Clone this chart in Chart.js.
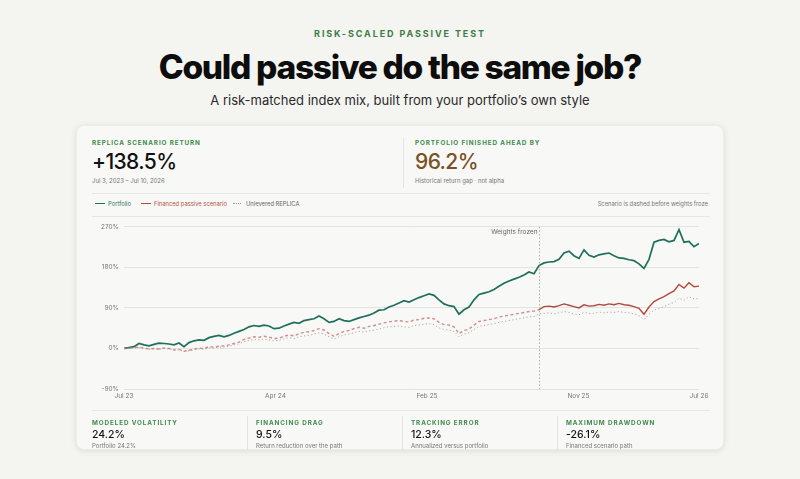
<!DOCTYPE html>
<html>
<head>
<meta charset="utf-8">
<script src="https://cdn.jsdelivr.net/npm/chart.js@4"></script>
<style>
  * { box-sizing: border-box; margin: 0; padding: 0; }
  body { width: 800px; height: 479px; background: #f4f4f1; font-family: Inter, "Noto Sans", sans-serif; color: #111; position: relative; overflow: hidden; }
  .eyebrow { position: absolute; top: 28px; left: 0; width: 800px; text-align: center; font-size: 9px; font-weight: 700; letter-spacing: 1.9px; color: #3b7d45; }
  h1 { position: absolute; top: 47px; left: 0; width: 800px; text-align: center; font-size: 33.5px; font-weight: 800; letter-spacing: -1.3px; color: #0d0d0d; }
  .sub { position: absolute; top: 92px; left: 0; width: 800px; text-align: center; font-size: 13px; color: #2a2a2a; }
  .card { position: absolute; left: 76px; top: 125px; width: 648px; height: 325px; background: #f8f8f6; border-radius: 8px; box-shadow: 0 1px 6px rgba(0,0,0,0.10); border: 1px solid #ecece8; }
  .lab { position: absolute; font-size: 6.3px; font-weight: 700; letter-spacing: 0.9px; color: #3d8a4c; }
  .big { position: absolute; font-size: 21px; font-weight: 500; letter-spacing: -0.6px; }
  .small { position: absolute; font-size: 6px; color: #777; }
  .mid { position: absolute; font-size: 10.5px; font-weight: 500; color: #111; }
  .vdiv { position: absolute; width: 1px; background: #e4e4e0; }
  .hdiv { position: absolute; height: 1px; background: #e7e7e3; }
  .leg { position: absolute; top: 74px; font-size: 5.8px; display: flex; align-items: center; }
  .leg i { display: inline-block; width: 10px; height: 0; margin-right: 3px; }
  #wrap { position: absolute; left: 9px; top: 92px; width: 630px; height: 195px; }
</style>
</head>
<body>
<div class="eyebrow">RISK-SCALED PASSIVE TEST</div>
<h1>Could passive do the same job?</h1>
<div class="sub">A risk-matched index mix, built from your portfolio’s own style</div>

<div class="card">
  <div class="lab" style="left:15px;top:13px">REPLICA SCENARIO RETURN</div>
  <div class="big" style="left:15px;top:23px">+138.5%</div>
  <div class="small" style="left:15px;top:51px">Jul 3, 2023 – Jul 10, 2026</div>
  <div class="vdiv" style="left:326px;top:12px;height:50px"></div>
  <div class="lab" style="left:338px;top:13px">PORTFOLIO FINISHED AHEAD BY</div>
  <div class="big" style="left:338px;top:23px;color:#7a5125">96.2%</div>
  <div class="small" style="left:338px;top:51px">Historical return gap · not alpha</div>

  <div class="hdiv" style="left:15px;top:67px;width:618px"></div>
  <div class="leg" style="left:18px;color:#2b7a62"><i style="border-top:1.5px solid #1f6f5c"></i>Portfolio</div>
  <div class="leg" style="left:64px;color:#b4544a"><i style="border-top:1.5px solid #b24d42"></i>Financed passive scenario</div>
  <div class="leg" style="left:156px;color:#666"><i style="border-top:1.5px dotted #999;width:8px;margin-right:5px"></i>Unlevered REPLICA</div>
  <div class="leg" style="right:15px;color:#777">Scenario is dashed before weights froze</div>
  <div class="hdiv" style="left:15px;top:90px;width:618px"></div>

  <div id="wrap"><canvas id="chart"></canvas></div>

  <div class="hdiv" style="left:15px;top:284px;width:618px"></div>
  <div class="lab" style="left:15px;top:293px">MODELED VOLATILITY</div>
  <div class="mid" style="left:15px;top:302px">24.2%</div>
  <div class="small" style="left:15px;top:316px">Portfolio 24.2%</div>
  <div class="vdiv" style="left:170px;top:290px;height:34px"></div>
  <div class="lab" style="left:179px;top:293px">FINANCING DRAG</div>
  <div class="mid" style="left:179px;top:302px">9.5%</div>
  <div class="small" style="left:179px;top:316px">Return reduction over the path</div>
  <div class="vdiv" style="left:325px;top:290px;height:34px"></div>
  <div class="lab" style="left:334px;top:293px">TRACKING ERROR</div>
  <div class="mid" style="left:334px;top:302px">12.3%</div>
  <div class="small" style="left:334px;top:316px">Annualized versus portfolio</div>
  <div class="vdiv" style="left:480px;top:290px;height:34px"></div>
  <div class="lab" style="left:489px;top:293px">MAXIMUM DRAWDOWN</div>
  <div class="mid" style="left:489px;top:302px">-26.1%</div>
  <div class="small" style="left:489px;top:316px">Financed scenario path</div>
</div>

<script>
// cumulative return (%), Jul 3 2023 -> Jul 10 2026, evenly sampled
const portfolio = [0, 2, 4, 11, 8, 6, 9, 12, 11, 10, 8, 12, 4, 13, 17, 19, 18, 24, 27, 29,
  26, 29, 34, 38, 42, 48, 51, 49, 52, 50, 44, 45, 50, 54, 58, 56, 62, 64, 66, 72,
  66, 58, 60, 66, 62, 60, 64, 68, 71, 74, 79, 85, 86, 92, 96, 101, 106, 103, 108, 113,
  117, 121, 118, 108, 99, 95, 93, 76, 86, 92, 108, 120, 123, 126, 131, 138, 145, 150, 154, 158,
  163, 170, 166, 184, 190, 192, 193, 198, 212, 216, 206, 200, 219, 207, 203, 208, 210, 212, 206, 201,
  200, 197, 195, 188, 178, 198, 236, 240, 242, 237, 240, 264, 236, 238, 226, 233];

const financed = [0, 1, 2, 3, 1, -1, 0, -1, 1, 0, -3, -2, -6, -4, -2, 1, 0, 4, 3, 5,
  6, 8, 11, 14, 20, 23, 26, 25, 27, 25, 22, 23, 27, 30, 28, 33, 36, 37, 40, 44,
  41, 33, 27, 33, 38, 40, 44, 47, 45, 49, 51, 54, 57, 59, 61, 62, 60, 59, 63, 64,
  67, 68, 66, 58, 53, 52, 48, 33, 40, 43, 52, 60, 62, 64, 66, 70, 72, 74, 76, 78,
  80, 82, 83, 86, 93, 94, 92, 95, 99, 96, 93, 90, 97, 94, 95, 98, 96, 99, 97, 100,
  97, 96, 93, 89, 76, 92, 104, 110, 115, 122, 128, 142, 134, 146, 137, 138.5];

const unlevered = [0, 1, 1, 2, 0, -2, -1, -2, 0, -1, -4, -3, -7, -5, -3, -1, -2, 1, 1, 3,
  3, 5, 8, 10, 15, 18, 20, 19, 21, 19, 17, 18, 21, 24, 22, 26, 28, 29, 32, 35,
  32, 26, 21, 26, 30, 32, 35, 38, 36, 39, 41, 43, 46, 48, 49, 50, 48, 47, 51, 52,
  54, 55, 53, 46, 42, 41, 38, 26, 32, 35, 42, 49, 51, 53, 55, 58, 60, 62, 64, 66,
  68, 70, 71, 77, 78, 79, 77, 79, 82, 80, 77, 75, 80, 78, 78, 81, 79, 81, 80, 82,
  80, 79, 77, 73, 64, 76, 85, 89, 93, 98, 102, 112, 107, 115, 110, 111];

const FREEZE_INDEX = 83;
const xTickPos = [0, 30.3, 60.6, 90.9, 115];
const xTickLabels = ['Jul 23', 'Apr 24', 'Feb 25', 'Nov 25', 'Jul 26'];
const yTicks = [-90, 0, 90, 180, 270];

const toPts = arr => arr.map((v, i) => ({ x: i, y: v }));

const freezeLine = {
  id: 'freezeLine',
  afterDatasetsDraw(chart) {
    const { ctx, chartArea, scales } = chart;
    const x = Math.round(scales.x.getPixelForValue(FREEZE_INDEX)) + 0.5;
    ctx.save();
    ctx.strokeStyle = '#9a9a9a';
    ctx.lineWidth = 0.8;
    ctx.setLineDash([1.5, 2]);
    ctx.beginPath();
    ctx.moveTo(x, chartArea.top);
    ctx.lineTo(x, chartArea.bottom);
    ctx.stroke();
    ctx.setLineDash([]);
    ctx.fillStyle = '#666';
    ctx.font = '6.5px Inter, sans-serif';
    ctx.textAlign = 'right';
    ctx.textBaseline = 'middle';
    ctx.fillText('Weights frozen', x - 2, chartArea.top + 5);
    ctx.restore();
  }
};

new Chart(document.getElementById('chart'), {
  type: 'line',
  data: {
    datasets: [
      {
        label: 'Unlevered REPLICA',
        data: toPts(unlevered),
        borderColor: '#a8a8a4',
        borderWidth: 1,
        borderDash: [1.2, 2.4],
        pointRadius: 0,
        tension: 0
      },
      {
        label: 'Financed passive scenario',
        data: toPts(financed),
        borderColor: '#b04a3f',
        borderWidth: 1.4,
        pointRadius: 0,
        tension: 0,
        segment: {
          borderDash: ctx => ctx.p1DataIndex <= FREEZE_INDEX ? [3, 2.5] : undefined,
          borderColor: ctx => ctx.p1DataIndex <= FREEZE_INDEX ? 'rgba(190,100,95,0.7)' : '#b04a3f'
        }
      },
      {
        label: 'Portfolio',
        data: toPts(portfolio),
        borderColor: '#1f6f5c',
        borderWidth: 1.7,
        pointRadius: 0,
        tension: 0
      }
    ]
  },
  options: {
    responsive: true,
    maintainAspectRatio: false,
    animation: false,
    layout: { padding: { top: 8, right: 17, left: 0, bottom: 0 } },
    plugins: { legend: { display: false }, tooltip: { enabled: false } },
    scales: {
      x: {
        type: 'linear',
        min: 0,
        max: portfolio.length - 1,
        afterBuildTicks: axis => { axis.ticks = xTickPos.map(v => ({ value: v })); },
        afterFit: axis => { axis.height = 24; },
        ticks: {
          autoSkip: false,
          maxRotation: 0,
          padding: 3,
          color: '#777',
          font: { family: 'Inter', size: 6.5 },
          callback: (v, i) => xTickLabels[i]
        },
        grid: { display: false, drawTicks: false },
        border: { display: false }
      },
      y: {
        min: -90,
        max: 270,
        afterBuildTicks: axis => { axis.ticks = yTicks.map(v => ({ value: v })); },
        afterFit: axis => { axis.width = 38; },
        ticks: {
          padding: 5,
          color: '#777',
          font: { family: 'Inter', size: 6.5 },
          callback: v => v + '%'
        },
        grid: { color: '#e3e3df', lineWidth: 1, drawTicks: false },
        border: { display: false }
      }
    }
  },
  plugins: [freezeLine]
});
</script>
</body>
</html>
